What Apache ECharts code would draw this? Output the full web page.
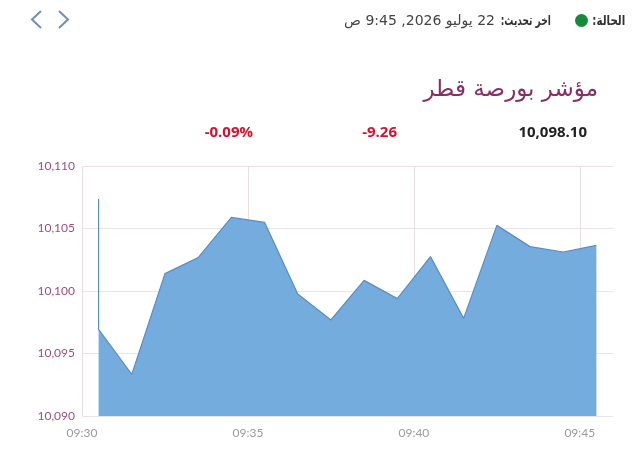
<!DOCTYPE html>
<html lang="ar">
<head>
<meta charset="utf-8">
<script src="https://cdn.jsdelivr.net/npm/echarts@6/dist/echarts.min.js"></script>
<style>
html,body{margin:0;padding:0;background:#fff;}
#wrap{position:relative;width:640px;height:456px;}
#c{position:absolute;left:0;top:0;width:640px;height:456px;}
.st{position:absolute;top:10px;height:20px;line-height:20px;direction:rtl;white-space:nowrap;
  font-family:"DejaVu Sans",sans-serif;color:#333;transform-origin:100% 50%;}
#lbl{right:15px;font-size:13.5px;font-weight:bold;transform:scaleX(0.76);}
#dot{position:absolute;left:575px;top:13.5px;width:13px;height:13px;border-radius:50%;background:#16893a;}
#upd{right:89px;font-size:13.5px;font-weight:bold;transform:scaleX(0.67);}
#val{right:145px;font-size:14px;color:#444;}
</style>
</head>
<body>
<div id="wrap">
<div id="c"></div>
<span class="st" id="lbl"></span>
<span id="dot"></span>
<span class="st" id="upd"></span>
<span class="st" id="val"></span>
</div>
<script>
// Data
const times = ["09:30:30","09:30:30","09:31:30","09:32:30","09:33:30","09:34:30","09:35:30","09:36:30","09:37:30","09:38:30","09:39:30","09:40:30","09:41:30","09:42:30","09:43:30","09:44:30","09:45:30"];
const values = [10107.36,10096.93,10093.33,10101.39,10102.67,10105.89,10105.49,10099.76,10097.68,10100.85,10099.39,10102.75,10097.81,10105.25,10103.55,10103.12,10103.65];
const yTicks = [10090,10095,10100,10105,10110];
const xTickLabels = ["09:30","09:35","09:40","09:45"];
const xEnd = "09:46";
const titleText = "مؤشر بورصة قطر";
const statusLabel = "الحالة:";
const updateLabel = "اخر تحديث:";
const updateValue = "22 يوليو 2026, 9:45 ص";
const lastValue = "10,098.10";
const changeValue = "-9.26";
const changePct = "-0.09%";

// status line (RTL html text)
document.getElementById('lbl').textContent = statusLabel;
document.getElementById('upd').textContent = updateLabel;
document.getElementById('val').textContent = updateValue;

function toMin(t){const p=t.split(':').map(Number);return p[0]*60+p[1]+(p[2]||0)/60;}
const seriesData = times.map((t,i)=>[toMin(t),values[i]]);
function fmtMin(v){const h=Math.floor(v/60),m=Math.round(v-h*60);return String(h).padStart(2,'0')+':'+String(m).padStart(2,'0');}

const gridCol = '#e6dfe3';
const chart = echarts.init(document.getElementById('c'),null,{renderer:'canvas'});
const arFont = '"DejaVu Sans","Open Sans",sans-serif';
chart.setOption({
  animation:false,
  backgroundColor:'#fff',
  grid:{left:82,right:27,top:166,bottom:40},
  xAxis:{
    type:'value',
    min:toMin(xTickLabels[0]),
    max:toMin(xEnd),
    interval:5,
    axisLine:{show:false},
    axisTick:{show:false},
    axisLabel:{color:'#9a9a9a',fontFamily:'Lato',fontSize:12,margin:11,showMaxLabel:false,formatter:v=>fmtMin(v)},
    splitLine:{show:true,lineStyle:{color:xTickLabels.map(()=>gridCol).concat(['rgba(0,0,0,0)']),width:1}}
  },
  yAxis:{
    type:'value',
    min:yTicks[0],max:yTicks[yTicks.length-1],interval:5,
    axisLine:{show:false},
    axisTick:{show:false},
    axisLabel:{color:'#9e4d7d',fontFamily:'Lato',fontSize:12,margin:7,formatter:v=>v.toLocaleString('en-US')},
    splitLine:{show:true,lineStyle:{color:'#ebe3e7',width:1}}
  },
  series:[{
    type:'line',
    data:seriesData,
    symbol:'none',
    lineStyle:{color:'#5a8cc3',width:1.2},
    areaStyle:{color:'#6aa6dc',opacity:0.93},
    z:2
  }],
  graphic:[
    {type:'polyline',shape:{points:[[41,11],[32,19.5],[41,28]]},style:{stroke:'#6f8fb7',lineWidth:2,fill:null}},
    {type:'polyline',shape:{points:[[59,11],[68,19.5],[59,28]]},style:{stroke:'#6f8fb7',lineWidth:2,fill:null}},
    {type:'text',x:598,y:90,style:{text:titleText,align:'right',verticalAlign:'middle',fill:'#8a2d62',font:'23px '+arFont}},
    {type:'text',x:587,y:133,style:{text:lastValue,align:'right',verticalAlign:'middle',fill:'#222',font:'bold 15px "Open Sans",sans-serif'}},
    {type:'text',x:397,y:133,style:{text:changeValue,align:'right',verticalAlign:'middle',fill:'#d4112e',font:'bold 15px "Open Sans",sans-serif'}},
    {type:'text',x:253,y:133,style:{text:changePct,align:'right',verticalAlign:'middle',fill:'#d4112e',font:'bold 15px "Open Sans",sans-serif'}}
  ]
});
</script>
</body>
</html>
